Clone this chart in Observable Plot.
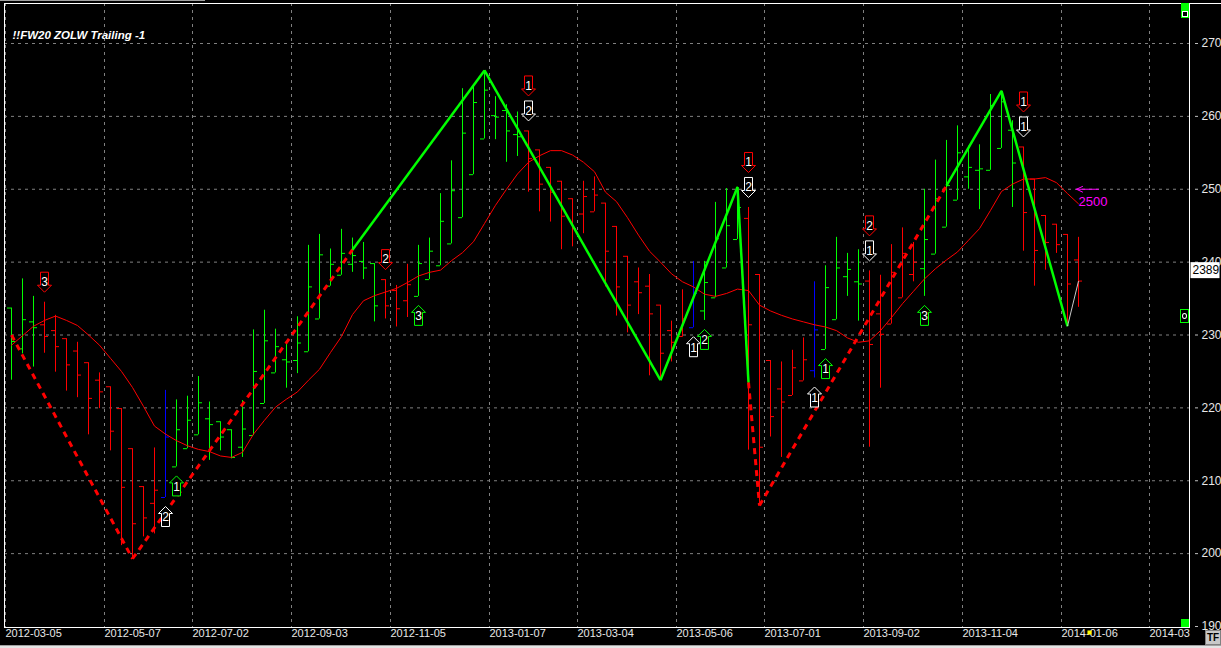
<!DOCTYPE html>
<html><head><meta charset="utf-8">
<script src="https://cdn.jsdelivr.net/npm/d3@7"></script>
<script src="https://cdn.jsdelivr.net/npm/@observablehq/plot@0.6"></script>
<style>
html,body{margin:0;padding:0;background:#000;overflow:hidden;width:1221px;height:648px}
#wrap{position:relative;width:1221px;height:648px;overflow:hidden}
.ov{position:absolute;box-sizing:border-box}
svg{display:block}
</style></head><body><div id="wrap"></div>
<script>
// ---------- DATA ----------
const title = "!!FW20 ZOLW Trailing -1";
const firstWeek = "2012-03-05";
const xTickDates = ["2012-03-05","2012-05-07","2012-07-02","2012-09-03","2012-11-05","2013-01-07","2013-03-04","2013-05-06","2013-07-01","2013-09-02","2013-11-04","2014-01-06","2014-03-03"];
const xTickLabels = ["2012-03-05","2012-05-07","2012-07-02","2012-09-03","2012-11-05","2013-01-07","2013-03-04","2013-05-06","2013-07-01","2013-09-02","2013-11-04","2014-01-06","2014-03"];
const yTicks = [1900,2000,2100,2200,2300,2400,2500,2600,2700];

const barHigh = [2337,2377,2353,2345,2327,2295,2290,2262,2248,2229, 2199,2144,2092,2145,2224,2211,2216,2243,2208,2181, 2170,2210,2307,2334,2308,2289,2325,2423,2438,2418, 2445,2433,2427,2398,2376,2368,2397,2423,2433,2494, 2539,2638,2642,2663,2627,2616,2606,2580,2554,2530, 2511,2487,2511,2517,2481,2449,2408,2392,2383,2341, 2319,2362,2401,2401,2482,2501,2503,2475,2383,2265, 2263,2279,2296,2373,2395,2434,2412,2417,2388,2382, 2424,2447,2427,2500,2540,2567,2587,2559,2561,2630, 2635,2594,2558,2514,2464,2452,2438,2434];
const barLow = [2238,2274,2256,2275,2249,2223,2214,2163,2199,2141, 2011,1993,2023,2027,2077,2119,2144,2163,2128,2141, 2130,2132,2162,2206,2248,2227,2247,2277,2322,2367, 2382,2386,2376,2318,2322,2311,2324,2353,2376,2395, 2425,2461,2520,2569,2568,2537,2545,2496,2469,2455, 2417,2421,2439,2469,2366,2326,2303,2328,2244,2238, 2263,2297,2310,2320,2351,2392,2431,2142,2066,2160, 2132,2217,2237,2241,2280,2321,2353,2319,2146,2227, 2315,2351,2373,2353,2411,2448,2485,2500,2472,2526, 2556,2475,2415,2367,2389,2412,2313,2338];
const barOpen = [2337,2281,2318,2314,2306,2295,2278,2262,2238,2229, 2199,2144,2092,2069,2077,2119,2144,2163,2185,2181, 2170,2146,2162,2206,2248,2266,2265,2277,2322,2367, 2382,2397,2401,2398,2376,2361,2347,2353,2376,2395, 2425,2461,2520,2569,2601,2608,2575,2580,2554,2530, 2511,2487,2466,2469,2481,2449,2408,2373,2367,2341, 2306,2298,2310,2333,2351,2392,2431,2460,2383,2265, 2226,2217,2237,2251,2280,2321,2380,2373,2374,2329, 2315,2351,2383,2391,2411,2448,2485,2517,2526,2526, 2556,2581,2558,2514,2464,2452,2438,2403];
const barClose = [2291,2321,2310,2298,2284,2259,2245,2213,2222,2168, 2091,2041,2049,2087,2160,2170,2183,2207,2177,2160, 2132,2171,2250,2292,2284,2263,2289,2366,2410,2397, 2412,2409,2392,2340,2340,2336,2369,2398,2415,2456, 2498,2577,2619,2636,2599,2580,2572,2542,2507,2496, 2463,2446,2490,2492,2415,2366,2341,2358,2329,2275, 2290,2322,2357,2372,2432,2450,2475,2314,2146,2188, 2208,2255,2266,2307,2365,2392,2390,2370,2287,2301, 2386,2412,2400,2431,2487,2505,2550,2530,2528,2615, 2620,2536,2468,2416,2427,2424,2370,2374];
const barTrend = ["g","g","g","r","r","r","r","r","r","r","r","r","r","r","b",
  "g","g","g","g","g","g","g","g","g","g","g","g","g","g","g","g","g","g","g",
  "r","r","r","g","g","g","g","g","g","g","g","g","g",
  "r","r","r","r","r","r","r","r","r","r","r","r","r","r","r","b",
  "g","g","g","g","r","r","r","r","r","r","b","g","g","g","g",
  "r","r","r","r","r","g","g","g","g","g","g","g","g","g","r","r","r","r","r","r"];
const maValues = [2286,2299,2312,2320,2326,2320,2313,2300,2286,2268, 2250,2228,2202,2175,2164,2155,2148,2143,2140,2134, 2132,2139,2164,2183,2201,2212,2222,2238,2253,2276, 2298,2328,2347,2354,2359,2364,2372,2381,2386,2389, 2402,2413,2428,2453,2478,2500,2521,2537,2546,2553, 2553,2547,2537,2524,2496,2483,2461,2437,2415,2400, 2384,2373,2366,2356,2353,2357,2363,2361,2341,2333, 2327,2322,2318,2314,2311,2306,2296,2290,2292,2306, 2324,2343,2360,2377,2391,2403,2414,2430,2446,2471, 2497,2507,2514,2514,2516,2509,2494,2480];

// zigzag legs: [fromBar, fromValue, toBar, toValue]
const solidLegs = [[31,2417,43,2663],[43,2663,59,2238],[59,2238,66,2503],[66,2503,67,2235],[85,2505,90,2635],[90,2635,96,2312]];
const dashedLegs = [[0,2300,11,1993],[11,1993,31,2417],[67,2235,68,2066],[68,2066,85,2505]];
const openLegs = [[96,2312,97,2374]];

// signal arrows
const downSignals = [
  {bar:3, color:"r", label:"3", level:0},
  {bar:34, color:"r", label:"2", level:0},
  {bar:47, color:"w", label:"2", level:0},
  {bar:47, color:"r", label:"1", level:1},
  {bar:67, color:"w", label:"2", level:0},
  {bar:67, color:"r", label:"1", level:1},
  {bar:78, color:"w", label:"1", level:0},
  {bar:78, color:"r", label:"2", level:1},
  {bar:92, color:"w", label:"1", level:0},
  {bar:92, color:"r", label:"1", level:1}
];
const upSignals = [
  {bar:14, color:"w", label:"2"},
  {bar:15, color:"g", label:"1"},
  {bar:37, color:"g", label:"3"},
  {bar:62, color:"w", label:"1"},
  {bar:63, color:"g", label:"2"},
  {bar:73, color:"w", label:"1"},
  {bar:74, color:"g", label:"1"},
  {bar:83, color:"g", label:"3"}
];
const lastPrice = 2389;
const targetLevel = 2500, targetBar = 97;
const currentBar = 98;

// ---------- LAYOUT ----------
const colorMap = {g:"#00ff00", r:"#ff0000", b:"#0000ff", w:"#ffffff"};
const DAY = 864e5;
const PX = 7/11*DAY;            // one pixel of time (11px per week)
const t0 = Date.parse(firstWeek + "T00:00:00Z");
const xDomain = [new Date(t0 - PX), new Date(t0 + 1184*PX)];
const barDate = i => new Date(t0 + i*7*DAY + 6*PX);
const shift = (d, px) => new Date(+d + px*PX);

const bars = barHigh.map((h,i) => ({i, date: barDate(i), high: h, low: barLow[i], open: barOpen[i], close: barClose[i], c: colorMap[barTrend[i]]}));
const legObj = L => L.map(([a,va,b,vb]) => ({x1: barDate(a), y1: va, x2: barDate(b), y2: vb}));

const arrowDown = {draw(ctx){ ctx.moveTo(-4,-20); ctx.lineTo(4,-20); ctx.lineTo(4,-7); ctx.lineTo(7,-7); ctx.lineTo(0,0); ctx.lineTo(-7,-7); ctx.lineTo(-4,-7); ctx.closePath(); }};
const arrowUp = {draw(ctx){ ctx.moveTo(-4,20); ctx.lineTo(4,20); ctx.lineTo(4,7); ctx.lineTo(7,7); ctx.lineTo(0,0); ctx.lineTo(-7,7); ctx.lineTo(-4,7); ctx.closePath(); }};
const priceBox = {draw(ctx){ ctx.rect(1,-8,29,16); }};

const down0 = downSignals.filter(d => d.level === 0);
const down1 = downSignals.filter(d => d.level === 1);
const sigX = d => barDate(d.bar);
const sigHigh = d => barHigh[d.bar];
const sigLow = d => barLow[d.bar];
const txt = {fill:"#ffffff", fontSize: 12, fontFamily:"Liberation Sans, Arial, sans-serif"};

const grid = {stroke:"#808080", strokeDasharray:"3,4", strokeWidth:1};

const chart = Plot.plot({
  width: 1221, height: 648,
  marginLeft: 4, marginRight: 32, marginTop: 3, marginBottom: 21,
  style: {background:"#000", color:"#fff", fontFamily:"Liberation Sans, Arial, sans-serif", fontSize:"11px", overflow:"visible"},
  x: {type:"utc", domain: xDomain, axis: null},
  y: {domain: [1898.63, 2754.89], axis: null},
  color: {type:"identity"},
  marks: [
    Plot.ruleY(yTicks.slice(1), grid),
    Plot.ruleX(xTickDates.map(d => new Date(d + "T00:00:00Z")), grid),
    // bars
    Plot.ruleX(bars, {x:"date", y1:"low", y2:"high", stroke:"c"}),
    Plot.ruleY(bars, {y:"open", x1: d => shift(d.date,-4), x2:"date", stroke:"c"}),
    Plot.ruleY(bars, {y:"close", x1:"date", x2: d => shift(d.date,4), stroke:"c"}),
    // moving average
    Plot.line(maValues, {x:(d,i) => barDate(i), y: d => d, stroke:"#ff0000", strokeWidth:1}),
    // zigzag
    Plot.link(legObj(dashedLegs), {x1:"x1", y1:"y1", x2:"x2", y2:"y2", stroke:"#ff0000", strokeWidth:3, strokeDasharray:"6,5"}),
    Plot.link(legObj(solidLegs), {x1:"x1", y1:"y1", x2:"x2", y2:"y2", stroke:"#00ff00", strokeWidth:2.5}),
    Plot.link(legObj(openLegs), {x1:"x1", y1:"y1", x2:"x2", y2:"y2", stroke:"#c8c8c8", strokeWidth:1}),
    // signal arrows
    Plot.dot(down0, {x:sigX, y:sigHigh, symbol: arrowDown, fill:"#000", stroke: d => colorMap[d.color], strokeWidth:1, dy:-10}),
    Plot.text(down0, {x:sigX, y:sigHigh, text:"label", dy:-20, ...txt}),
    Plot.dot(down1, {x:sigX, y:sigHigh, symbol: arrowDown, fill:"#000", stroke: d => colorMap[d.color], strokeWidth:1, dy:-35}),
    Plot.text(down1, {x:sigX, y:sigHigh, text:"label", dy:-45, ...txt}),
    Plot.dot(upSignals, {x:sigX, y:sigLow, symbol: arrowUp, fill:"#000", stroke: d => colorMap[d.color], strokeWidth:1, dy:9}),
    Plot.text(upSignals, {x:sigX, y:sigLow, text:"label", dy:20, ...txt}),
    // target annotation
    Plot.arrow([targetLevel], {x1: () => barDate(targetBar+2), x2: () => barDate(targetBar), y1: d => d, y2: d => d, dx:-2, stroke:"#ff00ff", strokeWidth:1, headLength:10, headAngle:50}),
    Plot.text([targetLevel], {x: () => barDate(targetBar), y: d => d, text: d => String(d), dy:13, textAnchor:"start", fill:"#ff00ff", fontSize:13}),
    // frame
    Plot.frame({stroke:"#ffffff"}),
    // y axis
    Plot.ruleY(yTicks, {x1: () => shift(xDomain[1],6), x2: () => shift(xDomain[1],9), stroke:"#c0c0c0"}),
    Plot.text(yTicks, {y: d => d, text: d => String(d), frameAnchor:"right", dx:12, textAnchor:"start", fill:"#e8e8e8", fontSize:12}),
    Plot.dot([lastPrice], {y: d => d, frameAnchor:"right", symbol: priceBox, fill:"#ffffff", stroke:"none"}),
    Plot.text([lastPrice], {y: d => d, text: d => String(d), frameAnchor:"right", dx:3, textAnchor:"start", fill:"#000", fontSize:12}),
    // x axis labels
    Plot.text(xTickDates.map(d => new Date(d + "T00:00:00Z")), {x: d => d, text: (d,i) => xTickLabels[i], frameAnchor:"bottom", dy:9, textAnchor:"start", fill:"#e8e8e8", fontSize:11}),
    Plot.dot([currentBar], {x: d => barDate(d), frameAnchor:"bottom", dy:5, symbol:"square", r:2.3, fill:"#ffff00", stroke:"none"}),
    // title
    Plot.text([title], {frameAnchor:"top-left", dx:8, dy:27, text: d => d, textAnchor:"start", fill:"#ffffff", fontWeight:"bold", fontStyle:"italic", fontSize:11.5})
  ]
});
const wrap = document.getElementById("wrap");
wrap.appendChild(chart);
function ov(css, html){ const d = document.createElement("div"); d.className = "ov"; d.style.cssText = css; if (html) d.innerHTML = html; wrap.appendChild(d); return d; }
ov("left:0;top:0;width:205px;height:1px;background:#a0a0a0");
ov("left:1189px;top:3px;width:32px;height:1px;background:#ffffff");
ov("left:1181px;top:3px;width:8px;height:15px;background:#00ff00");
ov("left:1182px;top:11px;width:6px;height:6px;background:#000;border:1px solid #fff");
ov("left:1180px;top:309px;width:9px;height:14px;background:#000;border:1px solid #00ff00");
ov("left:1182px;top:313px;width:5px;height:6px;border:1px solid #fff;border-radius:50%");
ov("left:1181px;top:619px;width:8px;height:8px;background:#00ff00");
ov("left:1205px;top:630px;width:16px;height:15px;background:#c8c8c8;border:1px solid #808080;font:bold 10px 'Liberation Sans',Arial,sans-serif;color:#000;text-align:center;line-height:13px", "TF");
ov("left:0;top:645px;width:1221px;height:3px;background:#e4e4e4;border-top:1px solid #a0a0a0");
</script></body></html>
